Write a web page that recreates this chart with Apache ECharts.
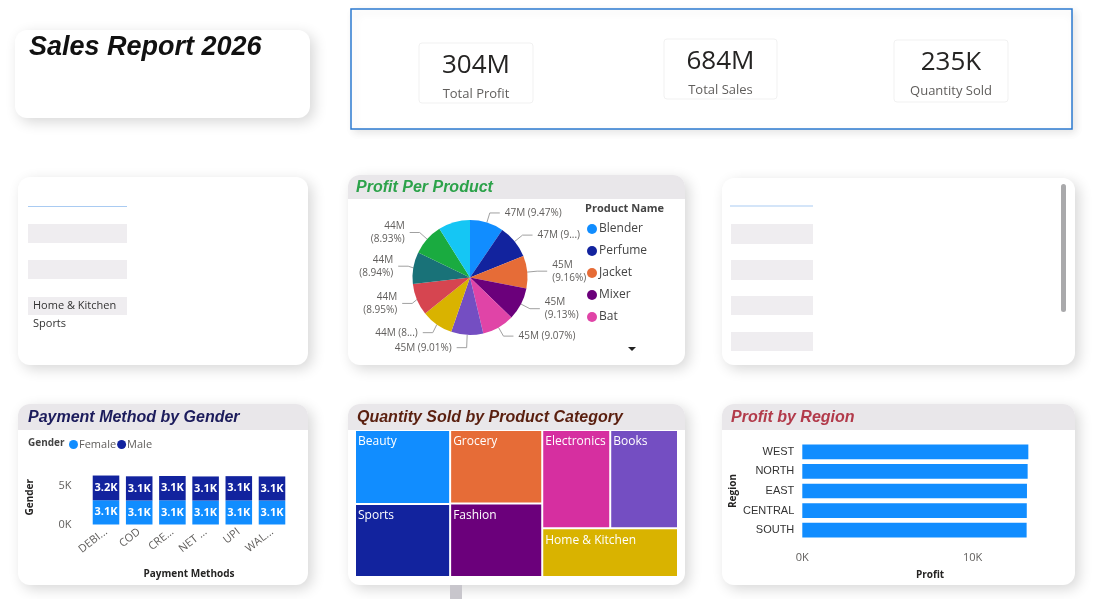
<!DOCTYPE html>
<html>
<head>
<meta charset="utf-8">
<title>Sales Report 2026</title>
<script src="https://cdn.jsdelivr.net/npm/echarts@6/dist/echarts.min.js"></script>
<style>
html, body { margin: 0; padding: 0; background: #fff; }
#main { width: 1100px; height: 599px; }
</style>
</head>
<body>
<div id="main"></div>
<script>
'use strict';
// KPI
var kpiValues = ['304M', '684M', '235K'];
var kpiLabels = ['Total Profit', 'Total Sales', 'Quantity Sold'];

// Profit per product (M)
var productNames = ['Blender', 'Perfume', 'Jacket', 'Mixer', 'Bat', 'Laptop', 'Novel', 'Rice', 'Sneakers', 'Lipstick', 'Smartphone'];
var productProfit = [46.97, 46.87, 45.43, 45.24, 44.99, 44.69, 44.45, 44.39, 44.34, 44.29, 44.24];

// Payment method by gender
var payMethods = ['DEBIT CARD', 'COD', 'CREDIT CARD', 'NET BANKING', 'UPI', 'WALLET'];
var femaleQty = [3120, 3090, 3110, 3080, 3100, 3090];
var maleQty = [3170, 3100, 3120, 3090, 3110, 3080];

// Quantity by category
var categories = ['Beauty', 'Sports', 'Grocery', 'Fashion', 'Electronics', 'Books', 'Home & Kitchen'];
var categoryQty = [34900, 34400, 33600, 33500, 33100, 33000, 32800];

// Profit by region
var regions = ['WEST', 'NORTH', 'EAST', 'CENTRAL', 'SOUTH'];
var regionProfit = [13270, 13230, 13190, 13180, 13170];

// slicer
var slicerItems = ['Home & Kitchen', 'Sports'];

var pieColors = ['#118DFF', '#12239E', '#E66C37', '#6B007B', '#E044A7', '#744EC2', '#D9B300', '#D64550', '#197278', '#1AAB40', '#15C6F4'];
var catColors = {
  'Beauty': '#118DFF', 'Sports': '#12239E', 'Grocery': '#E66C37', 'Fashion': '#6B007B',
  'Electronics': '#D62FA0', 'Books': '#744EC2', 'Home & Kitchen': '#D9B300'
};

var myChart = echarts.init(document.getElementById('main'));

var shadow = { shadowBlur: 14, shadowColor: 'rgba(0,0,0,0.16)', shadowOffsetX: 4, shadowOffsetY: 4 };
function card(x, y, w, h) {
  return { type: 'rect', shape: { x: x, y: y, width: w, height: h, r: 12 }, style: Object.assign({ fill: '#fff' }, shadow) };
}
function header(x, y, w, h) {
  return { type: 'rect', shape: { x: x, y: y, width: w, height: h, r: [12, 12, 0, 0] }, style: { fill: '#e9e7ea' } };
}
function title(x, y, text, color) {
  return { type: 'text', x: x, y: y, style: { text: text, fill: color, font: 'italic bold 16px "Liberation Sans"', verticalAlign: 'middle' } };
}
function box(x, y, w, h) {
  return { type: 'rect', shape: { x: x, y: y, width: w, height: h }, style: { fill: '#efedf0' } };
}
function kFmt(v) { return Math.round(v / 1000) + 'K'; }

var graphics = [
  card(15, 30, 295, 88),
  { type: 'text', x: 29, y: 48, style: { text: 'Sales Report 2026', fill: '#111', font: 'italic bold 27px "Liberation Sans"', verticalAlign: 'middle' } },
  { type: 'rect', shape: { x: 351, y: 9, width: 721, height: 120 }, style: { fill: '#fff', stroke: '#2b79d0', lineWidth: 1.5, shadowBlur: 8, shadowColor: 'rgba(0,0,0,0.1)', shadowOffsetX: 3, shadowOffsetY: 3 } },

  card(18, 177, 290, 188),
  { type: 'line', shape: { x1: 28, y1: 206.5, x2: 127, y2: 206.5 }, style: { stroke: '#a9cbf2', lineWidth: 1 } },
  box(28, 224, 99, 19), box(28, 260, 99, 19), box(28, 297, 99, 18),

  card(348, 175, 337, 190),
  header(348, 175, 337, 24),
  title(356, 188, 'Profit Per Product', '#2ca24a'),
  { type: 'text', x: 585, y: 209, style: { text: 'Product Name', fill: '#444', font: 'bold 11px "Open Sans"', verticalAlign: 'middle' } },
  { type: 'polygon', shape: { points: [[628, 347], [636, 347], [632, 351]] }, style: { fill: '#222' } },

  card(722, 178, 353, 187),
  { type: 'line', shape: { x1: 730, y1: 206, x2: 813, y2: 206 }, style: { stroke: '#a9cbf2', lineWidth: 1 } },
  box(731, 224, 82, 20), box(731, 260, 82, 20), box(731, 296, 82, 19), box(731, 332, 82, 19),
  { type: 'rect', shape: { x: 1061, y: 184, width: 5, height: 128, r: 2.5 }, style: { fill: '#a9a9ab' } },

  card(18, 404, 290, 181),
  header(18, 404, 290, 26),
  title(28, 418, 'Payment Method by Gender', '#1c1c5c'),
  { type: 'text', x: 28, y: 443, style: { text: 'Gender', fill: '#444', font: 'bold 10px "Open Sans"', verticalAlign: 'middle' } },

  card(348, 404, 337, 181),
  header(348, 404, 337, 26),
  title(357, 418, 'Quantity Sold by Product Category', '#5a1f0f'),
  { type: 'rect', shape: { x: 450, y: 585, width: 12, height: 14 }, style: { fill: '#c8c6cc' } },

  card(722, 404, 353, 181),
  header(722, 404, 353, 26),
  title(731, 418, 'Profit by Region', '#b23a4a')
];

var kpiCards = [[419, 43, 114, 60], [664, 39, 113, 60], [894, 40, 114, 62]];
kpiValues.forEach(function (v, i) {
  var c = kpiCards[i];
  var cx = c[0] + c[2] / 2;
  graphics.push({ type: 'rect', shape: { x: c[0], y: c[1], width: c[2], height: c[3], r: 3 }, style: { fill: '#fff', stroke: '#f1f1f1', lineWidth: 1 } });
  graphics.push({ type: 'text', x: cx, y: c[1] + 23, style: { text: v, fill: '#252423', font: '26px "Open Sans"', align: 'center', verticalAlign: 'middle' } });
  graphics.push({ type: 'text', x: cx, y: c[1] + 51, style: { text: kpiLabels[i], fill: '#605e5c', font: '13px "Open Sans"', align: 'center', verticalAlign: 'middle' } });
});
slicerItems.forEach(function (s, i) {
  graphics.push({ type: 'text', x: 33, y: 306 + i * 18, style: { text: s, fill: '#333', font: '11px "Open Sans"', verticalAlign: 'middle' } });
});

var twoLine = [2, 3, 7, 8, 9];
var clipped = [1, 6];
var pieData = productNames.map(function (n, i) {
  var d = { name: n, value: productProfit[i], itemStyle: { color: pieColors[i] } };
  if (i === 10) d.label = { show: false }, d.labelLine = { show: false };
  return d;
});

var option = {
  backgroundColor: '#fff',
  textStyle: { fontFamily: 'Open Sans' },
  animation: false,
  graphic: { elements: graphics },
  legend: [
    {
      data: productNames.slice(0, 5),
      orient: 'vertical',
      left: 582,
      top: 218,
      icon: 'circle',
      itemWidth: 10,
      itemHeight: 10,
      itemGap: 10,
      textStyle: { fontSize: 12, color: '#444', padding: [0, 0, 0, -3] }
    },
    {
      data: ['Female', 'Male'],
      left: 64,
      top: 434,
      icon: 'circle',
      itemWidth: 9,
      itemHeight: 9,
      itemGap: 1,
      textStyle: { fontSize: 11, color: '#605e5c', padding: [0, 0, 0, -4] }
    }
  ],
  grid: [
    { left: 89.4, width: 199.2, top: 470, height: 54.5 },
    { left: 802.3, width: 255.5, top: 442, height: 98 }
  ],
  xAxis: [
    {
      gridIndex: 0,
      type: 'category',
      data: payMethods,
      axisLine: { show: false },
      axisTick: { show: false },
      axisLabel: { rotate: 38, fontSize: 11, color: '#605e5c', width: 36, overflow: 'truncate', ellipsis: '...', margin: 6 },
      name: 'Payment Methods',
      nameLocation: 'middle',
      nameGap: 45,
      nameTextStyle: { fontSize: 10, fontWeight: 'bold', color: '#252423' }
    },
    {
      gridIndex: 1,
      type: 'value',
      min: 0,
      max: 15000,
      interval: 10000,
      splitLine: { show: false },
      axisLabel: { formatter: kFmt, fontSize: 11, color: '#605e5c', showMaxLabel: false, margin: 12 },
      name: 'Profit',
      nameLocation: 'middle',
      nameGap: 30,
      nameTextStyle: { fontSize: 10, fontWeight: 'bold', color: '#252423' }
    }
  ],
  yAxis: [
    {
      gridIndex: 0,
      type: 'value',
      min: 0,
      max: 7000,
      interval: 5000,
      splitLine: { show: false },
      axisLabel: { formatter: kFmt, fontSize: 11, color: '#605e5c', showMaxLabel: false, margin: 18 },
      name: 'Gender',
      nameLocation: 'middle',
      nameRotate: 90,
      nameGap: 54,
      nameTextStyle: { fontSize: 10, fontWeight: 'bold', color: '#252423' }
    },
    {
      gridIndex: 1,
      type: 'category',
      data: regions,
      inverse: true,
      axisLine: { show: false },
      axisTick: { show: false },
      axisLabel: { fontSize: 11, color: '#333', fontFamily: 'Liberation Sans', margin: 8 },
      name: 'Region',
      nameLocation: 'middle',
      nameRotate: 90,
      nameGap: 64,
      nameTextStyle: { fontSize: 10, fontWeight: 'bold', color: '#252423' }
    }
  ],
  series: [
    {
      name: 'Profit Per Product',
      type: 'pie',
      center: [470, 277.5],
      radius: 57.5,
      startAngle: 90,
      percentPrecision: 2,
      data: pieData,
      label: {
        fontSize: 10,
        color: '#605e5c',
        lineHeight: 13,
        formatter: function (p) {
          var v = Math.round(p.value) + 'M';
          var pct = p.percent.toFixed(2) + '%';
          if (clipped.indexOf(p.dataIndex) >= 0) return v + ' (' + pct.charAt(0) + '...)';
          if (twoLine.indexOf(p.dataIndex) >= 0) return v + '\n(' + pct + ')';
          return v + ' (' + pct + ')';
        }
      },
      labelLine: { length: 10, length2: 10, lineStyle: { color: '#a0a0a0', width: 1 } }
    },
    {
      name: 'Female',
      type: 'bar',
      stack: 'gender',
      xAxisIndex: 0,
      yAxisIndex: 0,
      barWidth: '80%',
      data: femaleQty,
      itemStyle: { color: '#118DFF' },
      label: { show: true, position: 'inside', color: '#fff', fontSize: 11, fontWeight: 'bold', formatter: function (p) { return (p.value / 1000).toFixed(1) + 'K'; } }
    },
    {
      name: 'Male',
      type: 'bar',
      stack: 'gender',
      xAxisIndex: 0,
      yAxisIndex: 0,
      barWidth: '80%',
      data: maleQty,
      itemStyle: { color: '#12239E' },
      label: { show: true, position: 'inside', color: '#fff', fontSize: 11, fontWeight: 'bold', formatter: function (p) { return (p.value / 1000).toFixed(1) + 'K'; } }
    },
    {
      name: 'Quantity Sold',
      type: 'treemap',
      left: 356,
      top: 431,
      width: 321,
      height: 145,
      roam: false,
      nodeClick: false,
      breadcrumb: { show: false },
      levels: [{ itemStyle: { borderWidth: 0, gapWidth: 2, borderColor: '#fff' } }],
      label: { show: true, position: 'insideTopLeft', color: '#fff', fontSize: 12, padding: [5, 2], overflow: 'none' },
      data: categories.map(function (c, i) {
        return { name: c, value: categoryQty[i], itemStyle: { color: catColors[c] } };
      })
    },
    {
      name: 'Profit',
      type: 'bar',
      xAxisIndex: 1,
      yAxisIndex: 1,
      barWidth: '75%',
      data: regionProfit,
      itemStyle: { color: '#118DFF' }
    }
  ]
};

myChart.setOption(option);
</script>
</body>
</html>
